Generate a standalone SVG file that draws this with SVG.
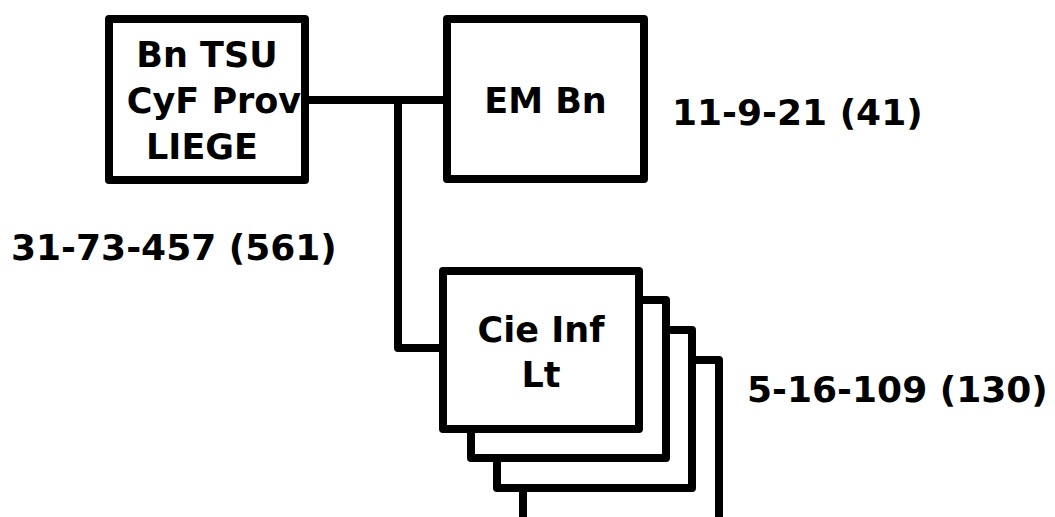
<svg xmlns="http://www.w3.org/2000/svg" width="1055" height="517" viewBox="0 0 1055 517">
<style>
.box{fill:#fff;stroke:#000;stroke-width:8;stroke-linejoin:round}
.con{fill:none;stroke:#000;stroke-width:8;stroke-linejoin:round}
.t{font-family:"DejaVu Sans",Verdana,sans-serif;font-weight:bold;font-size:35px;fill:#000;text-anchor:middle}
.n{font-family:"DejaVu Sans",Verdana,sans-serif;font-weight:bold;font-size:36px;fill:#000}
</style>
<rect width="1055" height="517" fill="#fff"/>
<g id="connectors">
<path class="con" d="M305 100 H447"/>
<path class="con" d="M398 100 V348 H443"/>
</g>
<g id="cie-stack">
<rect class="box" x="523" y="360" width="196" height="170"/>
<rect class="box" x="497" y="330" width="195" height="158"/>
<rect class="box" x="471" y="300" width="195" height="158"/>
<rect class="box" x="443" y="271" width="196" height="158"/>
<text class="t" x="541" y="342">Cie Inf</text>
<text class="t" x="541" y="387">Lt</text>
</g>
<g id="bn-tsu">
<rect class="box" x="109" y="19" width="196" height="161"/>
<text class="t" x="207" y="67">Bn TSU</text>
<text class="t" x="214" y="113">CyF Prov</text>
<text class="t" x="202" y="159">LIEGE</text>
</g>
<g id="em-bn">
<rect class="box" x="447" y="19" width="197" height="160"/>
<text class="t" x="545.5" y="113">EM Bn</text>
</g>
<g id="labels">
<text class="n" x="11" y="260">31-73-457 (561)</text>
<text class="n" x="672" y="125">11-9-21 (41)</text>
<text class="n" x="747" y="402">5-16-109 (130)</text>
</g>
</svg>
